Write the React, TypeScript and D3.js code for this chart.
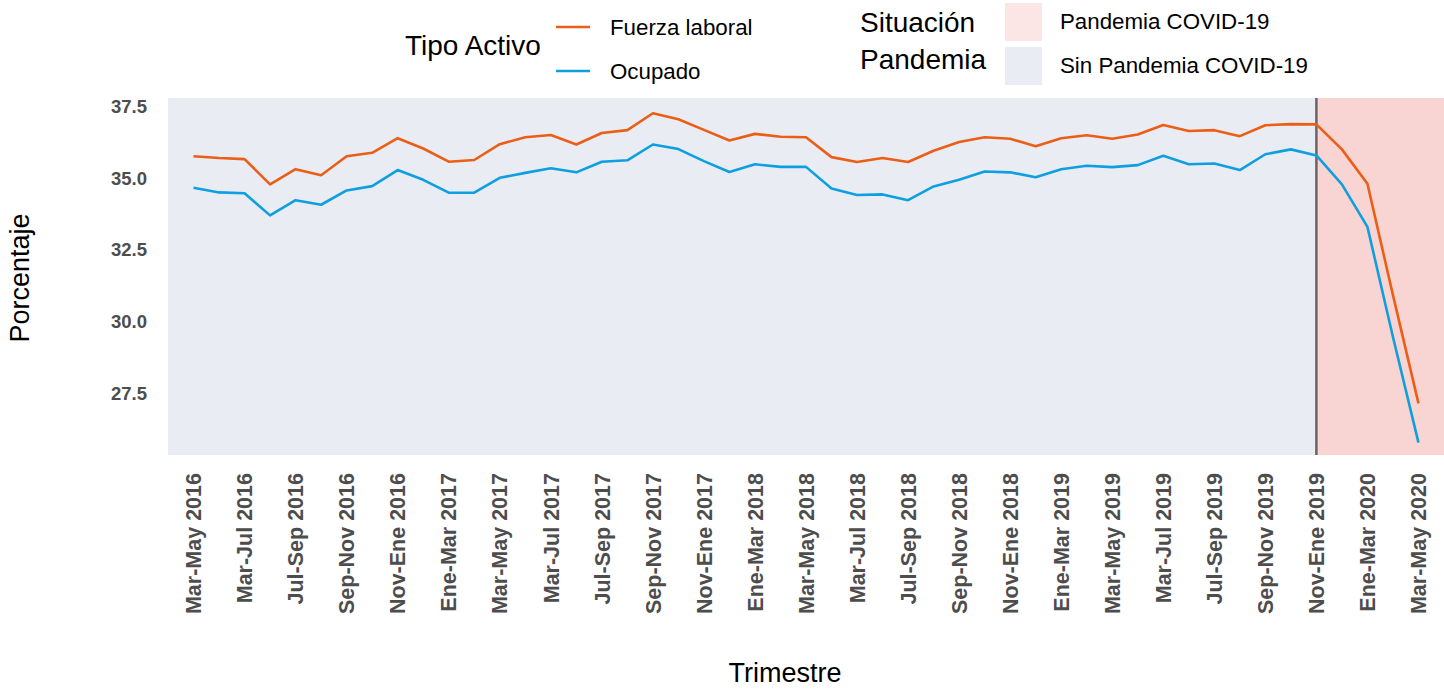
import * as d3 from "d3";

// rolling quarters, one per month
const periods = [
  "Mar-May 2016", "Abr-Jun 2016", "Mar-Jul 2016", "Jun-Ago 2016", "Jul-Sep 2016",
  "Ago-Oct 2016", "Sep-Nov 2016", "Oct-Dic 2016", "Nov-Ene 2016", "Dic-Feb 2017",
  "Ene-Mar 2017", "Feb-Abr 2017", "Mar-May 2017", "Abr-Jun 2017", "Mar-Jul 2017",
  "Jun-Ago 2017", "Jul-Sep 2017", "Ago-Oct 2017", "Sep-Nov 2017", "Oct-Dic 2017",
  "Nov-Ene 2017", "Dic-Feb 2018", "Ene-Mar 2018", "Feb-Abr 2018", "Mar-May 2018",
  "Abr-Jun 2018", "Mar-Jul 2018", "Jun-Ago 2018", "Jul-Sep 2018", "Ago-Oct 2018",
  "Sep-Nov 2018", "Oct-Dic 2018", "Nov-Ene 2018", "Dic-Feb 2019", "Ene-Mar 2019",
  "Feb-Abr 2019", "Mar-May 2019", "Abr-Jun 2019", "Mar-Jul 2019", "Jun-Ago 2019",
  "Jul-Sep 2019", "Ago-Oct 2019", "Sep-Nov 2019", "Oct-Dic 2019", "Nov-Ene 2019",
  "Dic-Feb 2020", "Ene-Mar 2020", "Feb-Abr 2020", "Mar-May 2020",
];

const fuerzaLaboral = [
  35.76, 35.70, 35.66, 34.78, 35.31, 35.10, 35.76, 35.88, 36.39, 36.03,
  35.57, 35.63, 36.18, 36.42, 36.50, 36.17, 36.57, 36.67, 37.26, 37.05,
  36.68, 36.31, 36.54, 36.44, 36.42, 35.73, 35.56, 35.70, 35.56, 35.95,
  36.26, 36.42, 36.37, 36.11, 36.39, 36.49, 36.37, 36.52, 36.85, 36.64,
  36.67, 36.46, 36.84, 36.88, 36.87, 36.00, 34.80, 30.92, 27.15,
];

const ocupado = [
  34.66, 34.50, 34.47, 33.70, 34.23, 34.07, 34.57, 34.72, 35.28, 34.94,
  34.49, 34.49, 35.01, 35.18, 35.34, 35.20, 35.57, 35.62, 36.17, 36.01,
  35.59, 35.21, 35.48, 35.39, 35.39, 34.64, 34.41, 34.43, 34.23, 34.71,
  34.94, 35.23, 35.20, 35.03, 35.31, 35.43, 35.38, 35.45, 35.78, 35.48,
  35.51, 35.28, 35.83, 36.00, 35.79, 34.78, 33.30, 29.46, 25.78,
];

const yTicks = [27.5, 30.0, 32.5, 35.0, 37.5];
const tickLabels = periods.filter((_, i) => i % 2 === 0);
const pandemicStart = "Nov-Ene 2019";

const seriesNames = ["Fuerza laboral", "Ocupado"];
const seriesColors = ["#EA5E16", "#0E9FE0"];
const situationNames = ["Pandemia COVID-19", "Sin Pandemia COVID-19"];

const W = 1444;
const H = 689;
const FONT = "'Liberation Sans', Arial, Helvetica, sans-serif";

const App = () => {
  const left = 168;
  const right = 1444;
  const top = 98;
  const bottom = 455;

  const x = d3.scalePoint<string>().domain(periods).range([left, right]).padding(1);
  const y = d3.scaleLinear().domain([25.35, 37.79]).range([bottom, top]);

  const line = d3
    .line<number>()
    .x((_, i) => x(periods[i]) as number)
    .y((d) => y(d));

  const xCut = x(pandemicStart) as number;

  return (
    <svg
      width={W}
      height={H}
      style={{ position: "absolute", left: 0, top: 0, background: "#fff" }}
      fontFamily={FONT}
    >
      {/* panel backgrounds */}
      <rect x={left} y={top} width={xCut - left} height={bottom - top} fill="#EAECF4" />
      <rect x={xCut} y={top} width={right - xCut} height={bottom - top} fill="#F8D4D3" />
      <line x1={xCut} x2={xCut} y1={top} y2={bottom} stroke="#6A6464" strokeWidth={2.5} />

      {[fuerzaLaboral, ocupado].map((s, k) => (
        <path key={k} d={line(s) ?? ""} fill="none" stroke={seriesColors[k]} strokeWidth={2.6} strokeLinejoin="round" />
      ))}

      {/* y axis */}
      {yTicks.map((t) => (
        <text key={t} x={147} y={y(t)} dy="0.36em" textAnchor="end" fontSize={18.5} fontWeight="bold" fill="#4D4D4D">
          {t.toFixed(1)}
        </text>
      ))}

      {/* x axis */}
      {tickLabels.map((l) => {
        const px = x(l) as number;
        return (
          <text
            key={l}
            x={px}
            y={473}
            dy="0.36em"
            textAnchor="end"
            fontSize={21.5}
            fontWeight="bold"
            fill="#4D4D4D"
            transform={`rotate(-90, ${px}, 473)`}
          >
            {l}
          </text>
        );
      })}

      <text x={785} y={682} textAnchor="middle" fontSize={27} fill="#000">
        Trimestre
      </text>
      <text x={29} y={278} textAnchor="middle" fontSize={27} fill="#000" transform="rotate(-90, 29, 278)">
        Porcentaje
      </text>

      {/* legend: tipo activo */}
      <text x={405} y={55} fontSize={28} fill="#000">Tipo Activo</text>
      {seriesNames.map((n, i) => (
        <g key={n}>
          <line x1={556} x2={590} y1={27 + i * 44} y2={27 + i * 44} stroke={seriesColors[i]} strokeWidth={2.6} />
          <text x={610} y={27 + i * 44} dy="0.36em" fontSize={22.3} fill="#000">{n}</text>
        </g>
      ))}

      {/* legend: situacion pandemia */}
      <text x={860} y={32} fontSize={28} fill="#000">Situación</text>
      <text x={860} y={69} fontSize={28} fill="#000">Pandemia</text>
      {situationNames.map((n, i) => (
        <g key={n}>
          <rect x={1005} y={3 + i * 44} width={37} height={38} fill={i === 0 ? "#FCE5E5" : "#EAECF4"} />
          <text x={1060} y={21 + i * 44} dy="0.36em" fontSize={22.3} fill="#000">{n}</text>
        </g>
      ))}
    </svg>
  );
};

export default App;
